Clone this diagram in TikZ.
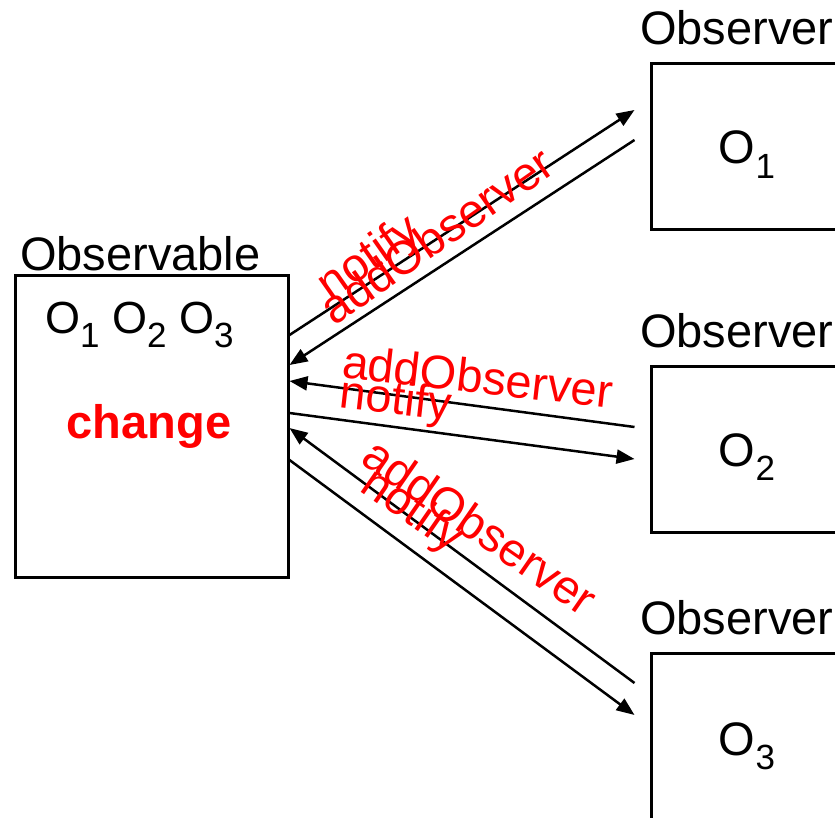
\documentclass[tikz,border=0pt]{standalone}
\usepackage{fontspec}
\setmainfont{Liberation Sans}
\usetikzlibrary{arrows.meta}
% subscript index for object names
\newcommand\objidx[1]{\raisebox{-0.3em}{\fontsize{35}{35}\selectfont #1}}
\begin{document}
\begin{tikzpicture}[x=1pt,y=-1pt,
  box/.style={draw, line width=3pt, inner sep=0pt, minimum width=#1},
  title/.style={font=\fontsize{47}{47}\selectfont, inner sep=0pt, anchor=base west},
  objtext/.style={font=\fontsize{47}{47}\selectfont, inner sep=0pt, anchor=base},
  msg/.style={red, font=\fontsize{47}{47}\selectfont, inner sep=0pt, anchor=base},
  arr/.style={line width=2.5pt, -{Triangle[length=18pt,width=14pt]}}]
\useasboundingbox (0,0) rectangle (835,818);
\clip (0,0) rectangle (835,818);

% subject
\node[box=273pt, minimum height=301pt] (subj) at (151.5,426.5) {};
\node[title] (subjtitle) at (20,271) {Observable};
\node[objtext, anchor=base west, font=\fontsize{45}{45}\selectfont] (list) at (45,334)
  {O\objidx{1} O\objidx{2} O\objidx{3}};
\node[msg, font=\fontsize{47}{47}\selectfont\bfseries] (change) at (149,438) {change};

% observers
\node[box=194pt, minimum height=166pt] (o1) at (748,147) {};
\node[box=194pt, minimum height=166pt] (o2) at (748,449) {};
\node[box=194pt, minimum height=166pt] (o3) at (748,736) {};
\node[title] (t1) at (640,45) {Observer};
\node[title] (t2) at (640,347) {Observer};
\node[title] (t3) at (640,634) {Observer};
\node[objtext] (n1) at (747,164) {O\objidx{1}};
\node[objtext] (n2) at (747,466) {O\objidx{2}};
\node[objtext] (n3) at (747,755) {O\objidx{3}};

% messages between subject and observers
\draw[arr] (subj.east |- 0,335) -- ([xshift=-15pt]o1.west |- 0,110);
\draw[arr] ([xshift=-15pt]o1.west |- 0,140) -- (subj.east |- 0,365);
\draw[arr] ([xshift=-15pt]o2.west |- 0,427) -- (subj.east |- 0,381);
\draw[arr] (subj.east |- 0,413) -- ([xshift=-15pt]o2.west |- 0,459);
\draw[arr] ([xshift=-15pt]o3.west |- 0,683) -- (subj.east |- 0,428);
\draw[arr] (subj.east |- 0,460) -- ([xshift=-15pt]o3.west |- 0,715);

% message labels
\node[msg, rotate=35] (m1a) at (377,269) {notify};
\node[msg, rotate=35] (m1b) at (446,249) {addObserver};
\node[msg, rotate=-6.5] (m2a) at (476,393) {addObserver};
\node[msg, rotate=-6.5] (m2b) at (394,414) {notify};
\node[msg, rotate=-34.7] (m3a) at (471,540) {addObserver};
\node[msg, rotate=-34.7] (m3b) at (405,522) {notify};
\end{tikzpicture}
\end{document}
